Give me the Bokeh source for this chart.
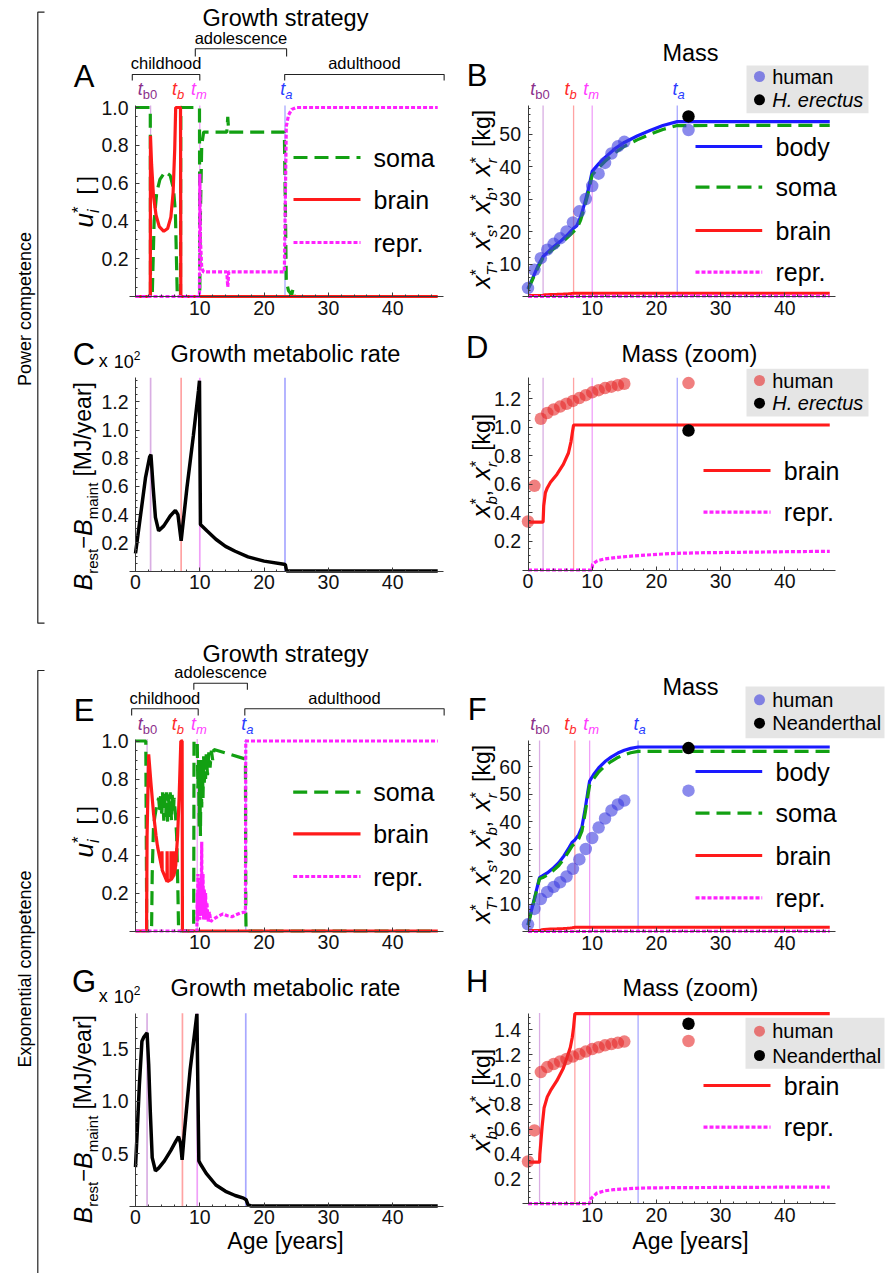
import math
from bokeh.plotting import figure
from bokeh.models import Range1d, LinearAxis, FixedTicker, NumeralTickFormatter
from bokeh.layouts import row, column
from bokeh.core.properties import value
from bokeh.embed import file_html
from bokeh.resources import INLINE

FONT = "Liberation Sans"
GREEN = "#12a012"
RED = "#ff1a1a"
MAGENTA = "#ff22ff"
BLUE = "#1a1aff"
HUMAN_BLUE = "#3c3ce0"
HUMAN_RED = "#e62a2a"
AXC = "#3a3a3a"

# ---------------- data ----------------
# event times: t_b0, t_b, t_m, t_a
pow_events = [2.35, 7.1, 10.0, 23.25]
exp_events = [1.8, 7.3, 9.6, 17.15]
# where the event labels sit along the age axis
pow_label_x = [1.85, 6.62, 9.85, 23.45]
exp_label_x = [1.85, 6.6, 9.85, 17.4]
phase_names = ["childhood", "adolescence", "adulthood"]
pow_phases = [(-0.5, 10.0), (9.3, 23.5), (23.2, 48.0)]
exp_phases = [(-0.6, 9.75), (9.07, 17.4), (17.0, 48.0)]

# A: power competence, growth strategy
A_soma_age = [0, 2.3, 2.33, 2.6, 2.9, 3.3, 3.8, 4.6, 5.4, 5.9, 6.2, 6.4, 6.5, 7.0, 7.05, 9.95, 10.0, 10.05,
              10.3, 10.6, 14.2, 14.35, 14.5, 23.15, 23.3, 23.45, 23.8, 24.3, 24.5, 24.7, 47.0]
A_soma_u = [1, 1, 0, 0, 0.4, 0.55, 0.62, 0.66, 0.64, 0.57, 0.45, 0.15, 0, 0, 1, 1, 0.02, 0.35,
            0.8, 0.87, 0.87, 0.95, 0.87, 0.87, 0.5, 0.08, 0.03, 0.01, 0.04, 0, 0]
A_brain_age = [0, 2.3, 2.33, 2.5, 2.8, 3.2, 3.7, 4.4, 5.0, 5.5, 5.85, 6.1, 6.25, 7.0, 7.05, 47.0]
A_brain_u = [0, 0, 0.85, 0.7, 0.53, 0.43, 0.37, 0.345, 0.36, 0.42, 0.55, 0.78, 1.0, 1.0, 0, 0]
A_repr_age = [0, 9.95, 10.0, 10.1, 10.3, 10.6, 14.2, 14.35, 14.5, 23.15, 23.3, 23.45, 23.8, 24.3, 25.0, 47.0]
A_repr_u = [0, 0, 0.65, 0.3, 0.15, 0.13, 0.13, 0.05, 0.13, 0.13, 0.5, 0.9, 0.96, 0.99, 1.0, 1.0]

# B: power competence, mass
B_age = [0, 0.5, 1.0, 1.5, 2.35, 3.0, 4.0, 5.0, 6.0, 7.1, 7.6, 8.2, 8.8, 9.4, 10.0, 11.0, 12.0, 13.5,
         15.0, 17.0, 19.0, 21.0, 23.25, 47.0]
B_body = [2.5, 4.6, 6.9, 9.2, 12.3, 13.5, 15.3, 16.9, 18.7, 21.0, 21.8, 24.5, 28.5, 33.0, 38.5, 40.8,
          42.8, 45.4, 47.4, 49.4, 51.1, 52.6, 53.8, 53.8]
B_soma = [2.2, 4.3, 6.5, 8.7, 11.9, 13.0, 14.7, 16.2, 17.9, 20.0, 20.8, 23.5, 27.5, 32.0, 37.4, 39.6,
          41.6, 44.2, 46.2, 48.2, 49.9, 51.4, 52.6, 52.65]
P_brain_age = [0, 2.35, 2.45, 2.7, 3.0, 3.5, 4.5, 5.5, 6.3, 6.7, 6.9, 7.1, 47.0]
P_brain_m = [0.335, 0.335, 0.45, 0.54, 0.575, 0.615, 0.67, 0.74, 0.82, 0.9, 0.96, 1.016, 1.016]
P_repr_age = [0, 10.0, 10.05, 10.8, 12.0, 14.0, 16.5, 18.5, 21.0, 23.3, 27.0, 33.0, 40.0, 47.0]
P_repr_m = [0, 0, 0.04, 0.065, 0.078, 0.089, 0.099, 0.105, 0.112, 0.117, 0.121, 0.124, 0.128, 0.131]

# C: power competence, growth metabolic rate (x 10^2 MJ/year)
C_age = [0, 0.8, 1.55, 2.2, 2.4, 2.75, 3.1, 3.6, 4.4, 5.4, 6.2, 6.6, 7.1, 8.0, 9.0, 9.8, 9.95, 10.1,
         11.1, 12.5, 14.0, 15.5, 17.5, 20.0, 23.1, 23.3, 23.5, 47.0]
C_rate = [0.125, 0.4, 0.66, 0.81, 0.825, 0.59, 0.38, 0.285, 0.32, 0.39, 0.43, 0.4, 0.215, 0.59, 0.96,
          1.28, 1.35, 0.33, 0.285, 0.225, 0.175, 0.14, 0.1, 0.07, 0.048, 0.045, 0.0, 0.0]

# E: exponential competence, growth strategy
E_soma_age = [0, 1.6, 1.75, 2.5, 2.6, 2.8, 3.0, 3.3, 3.6, 3.8, 3.9, 4.1, 4.2, 4.4, 4.5, 4.7, 4.8, 5.0,
              5.1, 5.3, 5.4, 5.6, 5.7, 5.9, 6.0, 6.2, 6.4, 6.6, 6.7, 9.05, 9.1, 9.6, 9.7, 9.8, 9.9,
              10.0, 10.1, 10.2, 10.3, 10.4, 10.5, 10.6, 10.7, 10.8, 10.9, 11.0, 11.2, 11.4, 11.6,
              11.8, 12.0, 12.2, 17.1, 17.15, 17.2, 47.0]
E_soma_u = [1, 1, 0, 0, 0.3, 0.55, 0.6, 0.66, 0.7, 0.62, 0.72, 0.6, 0.73, 0.58, 0.74, 0.6, 0.73, 0.57,
            0.72, 0.6, 0.73, 0.58, 0.72, 0.62, 0.7, 0.62, 0.5, 0.2, 0, 0, 1.0, 1.0, 0.75, 0.9, 0.55,
            0.85, 0.5, 0.9, 0.65, 0.88, 0.7, 0.92, 0.78, 0.9, 0.8, 0.93, 0.82, 0.94, 0.86,
            0.95, 0.9, 0.955, 0.905, 0.1, 0, 0]
E_brain_age = [0, 1.72, 1.8, 2.05, 2.4, 2.8, 3.2, 3.4, 3.42, 3.45, 4.1, 4.12, 4.15, 4.9, 4.92, 4.95,
               5.5, 5.52, 5.55, 5.9, 5.92, 5.95, 6.2, 6.22, 6.25, 6.35, 6.55, 6.8, 7.05, 7.25, 7.3, 47.0]
E_brain_u = [0, 0, 0.5, 0.93, 0.78, 0.62, 0.5, 0.45, 0.45, 0.44, 0.33, 0.42, 0.32, 0.26, 0.42, 0.26,
             0.27, 0.42, 0.27, 0.29, 0.42, 0.29, 0.33, 0.42, 0.34, 0.4, 0.5, 0.72, 1.0, 1.0, 0, 0]
E_repr_age = [0, 9.55, 9.6, 9.65, 9.7, 9.8, 9.9, 10.0, 10.1, 10.2, 10.3, 10.35, 10.5, 10.6, 10.7, 10.8,
              10.9, 11.0, 11.1, 11.3, 11.5, 11.7, 12.0, 12.5, 13.0, 13.6, 14.3, 15.0, 15.6, 16.3,
              17.1, 17.15, 47.0]
E_repr_u = [0, 0, 0.2, 0.05, 0.3, 0.1, 0.28, 0.06, 0.25, 0.08, 0.47, 0.1, 0.3, 0.06, 0.22, 0.07,
            0.2, 0.06, 0.15, 0.05, 0.1, 0.05, 0.06, 0.07, 0.08, 0.09, 0.08, 0.075, 0.085, 0.095,
            0.1, 1.0, 1.0]

# F: exponential competence, mass
F_age = [0, 0.5, 1.0, 1.5, 1.8, 2.3, 3.0, 3.8, 4.8, 5.6, 6.4, 6.9, 7.3, 7.9, 8.4, 8.9, 9.3, 9.6, 10.2,
         11.0, 12.0, 13.0, 14.0, 15.0, 16.0, 17.15, 47.0]
F_body = [2.5, 7.3, 12.0, 16.8, 19.6, 20.3, 21.3, 22.8, 25.0, 27.5, 30.5, 32.5, 33.3, 35.2, 38.0, 44.5,
          50.5, 54.7, 57.0, 59.5, 61.8, 63.5, 64.9, 65.9, 66.6, 67.1, 67.1]
F_soma = [2.2, 7.0, 11.6, 16.4, 19.2, 19.6, 20.5, 21.9, 24.0, 26.4, 29.3, 31.2, 31.9, 33.7, 36.5, 43.0,
          49.0, 53.2, 55.5, 58.0, 60.2, 61.9, 63.3, 64.3, 65.0, 65.5, 65.5]
X_brain_age = [0, 1.8, 1.85, 2.2, 2.5, 3.0, 3.5, 4.5, 5.5, 6.1, 6.6, 6.9, 7.1, 7.3, 47.0]
X_brain_m = [0.335, 0.335, 0.4, 0.62, 0.77, 0.86, 0.91, 0.99, 1.09, 1.18, 1.26, 1.34, 1.42, 1.53, 1.53]
X_repr_age = [0, 9.6, 9.65, 10.0, 10.75, 12.0, 13.3, 15.5, 17.5, 22.0, 30.0, 40.0, 47.0]
X_repr_m = [0, 0, 0.035, 0.05, 0.086, 0.104, 0.113, 0.12, 0.126, 0.129, 0.131, 0.133, 0.134]

# G: exponential competence, growth metabolic rate
G_age = [0, 0.3, 0.6, 1.0, 1.3, 1.8, 2.05, 2.3, 2.6, 3.1, 3.6, 4.5, 5.5, 6.3, 6.7, 7.0, 7.25, 7.6, 8.5,
         9.2, 9.55, 9.85, 10.1, 11.0, 12.5, 14.0, 15.5, 16.8, 17.2, 17.5, 18.0, 47.0]
G_rate = [0.37, 0.75, 1.15, 1.57, 1.61, 1.65, 1.35, 0.9, 0.46, 0.335, 0.36, 0.43, 0.53, 0.62, 0.66, 0.6,
          0.44, 0.7, 1.3, 1.65, 1.83, 0.43, 0.4, 0.31, 0.2, 0.14, 0.1, 0.075, 0.06, 0.01, 0.0, 0.0]

# observed data
human_age = [0, 1, 2, 3, 4, 5, 6, 7, 8, 9, 10, 11, 12, 13, 14, 15, 25]
human_body = [2.6, 8.2, 11.8, 14.4, 16.2, 17.9, 20.0, 22.8, 26.2, 30.0, 34.0, 37.8, 41.1, 44.0, 46.2, 47.6, 51.2]
human_brain = [0.34, 0.59, 1.06, 1.10, 1.125, 1.145, 1.165, 1.185, 1.205, 1.225, 1.245, 1.26, 1.275,
               1.285, 1.295, 1.305, 1.31]
fossil_age = [25]
erectus_body = [55.4]
erectus_brain = [0.977]
neander_body = [66.7]
neander_brain = [1.449]

t_subs = [("b0", "normal"), ("b", "italic"), ("m", "italic"), ("a", "italic")]
t_label_colors = ["#8b2f8b", "#ff2a2a", "#ff3cff", "#2a3cff"]
t_line_colors = ["#d9aee3", "#ffa3a3", "#f0a0f8", "#a8a8ff"]

# ---------------- helpers ----------------
W = {' ': .278, 'a': .556, 'b': .556, 'c': .5, 'd': .556, 'e': .556, 'f': .278, 'g': .556, 'h': .556,
     'i': .222, 'j': .222, 'k': .5, 'l': .222, 'm': .833, 'n': .556, 'o': .556, 'p': .556, 'q': .556,
     'r': .333, 's': .5, 't': .278, 'u': .556, 'v': .5, 'w': .722, 'x': .5, 'y': .5, 'z': .5,
     'A': .667, 'B': .667, 'C': .722, 'D': .722, 'E': .667, 'F': .611, 'G': .778, 'H': .722,
     'J': .5, 'M': .833, 'N': .722, 'T': .611, '[': .278, ']': .278, '(': .333, ')': .333, '/': .278,
     ',': .278, '.': .278, '*': .389, '−': .584, '-': .333}
MID = 0.35   # baseline -> em-box middle, in font sizes


def textw(s, size):
    return sum(W.get(ch, 0.556) for ch in s) * size


def minor(step, top, every):
    n = int(top / step + 1e-9)
    return [round(step * i, 4) for i in range(1, n + 1) if i % every]


XMINOR = [2 * i for i in range(1, 24) if i % 5]


class Panel:
    def __init__(self, L, R, T, B, X0=0.0, SX=1.0, Y0=0.0, SY=1.0):
        self.X0, self.SX, self.Y0, self.SY = X0, SX, Y0, SY
        self.fig = figure(width=R - L, height=B - T,
                          x_range=Range1d((L - X0) / SX, (R - X0) / SX),
                          y_range=Range1d((Y0 - B) / SY, (Y0 - T) / SY),
                          x_axis_type=None, y_axis_type=None,
                          toolbar_location=None, output_backend="svg", min_border=0)
        self.fig.outline_line_color = None

    def dx(self, px):
        return (px - self.X0) / self.SX

    def dy(self, py):
        return (self.Y0 - py) / self.SY

    def px(self, x):
        return self.X0 + self.SX * x

    def text(self, px, py, s, size, style="normal", color="black", align="left",
             baseline="alphabetic", angle=0.0):
        # positions are given for the alphabetic baseline; drawn with a middle baseline
        if baseline == "alphabetic":
            if angle == 0.0:
                py = py - MID * size
            else:
                px = px - MID * size
        self.fig.text(x=[self.dx(px)], y=[self.dy(py)], text=[s], text_font=value(FONT),
                      text_font_size=f"{size}px", text_font_style=style, text_color=color,
                      text_align=align, text_baseline="middle", angle=angle)

    def _walk(self, segs, draw=None):
        cursor, pending = 0.0, 0.0
        for seg in segs:
            t, size = seg[0], seg[1]
            if t == "":
                cursor += size
                continue
            style = seg[2] if len(seg) > 2 else "normal"
            rise = seg[3] if len(seg) > 3 else 0
            adv = seg[4] if len(seg) > 4 else True
            w = textw(t, size)
            if draw:
                draw(cursor, t, size, style, rise)
            if adv:
                cursor += max(w, pending)
                pending = 0.0
            else:
                pending = max(pending, w)
        return cursor + pending

    def rich(self, px, py, segs, color="black", angle=0.0, align="left"):
        total = self._walk(segs)
        start = -total / 2 if align == "center" else 0.0

        def draw(cursor, t, size, style, rise):
            c = start + cursor
            if angle == 0.0:
                x, y = px + c, py - rise
            else:
                x, y = px - rise, py - c
            self.text(x, y, t, size, style, color, "left", "alphabetic", angle)
        self._walk(segs, draw)

    def axes(self, xticks, xminor, yticks, yminor, ytop, yfmt, xlo=-0.9, xhi=47.9):
        xa = LinearAxis(fixed_location=0, bounds=(xlo, xhi),
                        ticker=FixedTicker(ticks=xticks, minor_ticks=xminor),
                        formatter=NumeralTickFormatter(format="0"))
        ya = LinearAxis(fixed_location=0, bounds=(0, ytop),
                        ticker=FixedTicker(ticks=yticks, minor_ticks=yminor),
                        formatter=NumeralTickFormatter(format=yfmt))
        for ax in (xa, ya):
            ax.axis_line_color = AXC
            ax.axis_line_width = 1
            ax.major_tick_line_color = AXC
            ax.minor_tick_line_color = AXC
            ax.major_tick_in = 4
            ax.major_tick_out = 0
            ax.minor_tick_in = 2
            ax.minor_tick_out = 0
            ax.major_label_text_font = FONT
            ax.major_label_text_font_size = "19.5px"
            ax.major_label_text_color = "#111111"
        xa.major_label_standoff = 4
        ya.major_label_standoff = 7
        self.fig.add_layout(xa, "below")
        self.fig.add_layout(ya, "left")

    def vlines(self, ts, top, width=1.3):
        self.fig.segment(x0=ts, y0=[0] * len(ts), x1=ts, y1=[top] * len(ts),
                         line_color=t_line_colors, line_width=width)

    def tlabels(self, xs, py):
        for t, (sub, st), c in zip(xs, t_subs, t_label_colors):
            self.rich(self.px(t), py, [("t", 18, "italic"), (sub, 13, st, -4)], color=c, align="center")

    def brackets(self, phases, ybar, ytick, ylab):
        for (a, b), name, yb, yt, yl in zip(phases, phase_names, ybar, ytick, ylab):
            self.fig.line([a, a, b, b], [self.dy(yt), self.dy(yb), self.dy(yb), self.dy(yt)],
                          line_color="#222222", line_width=1.1)
            self.text(self.px((a + b) / 2), yl, name, 16.5, align="center")

    def line_legend(self, x0, x1, xt, rows, items):
        for (label, color, dash), yr in zip(items, rows):
            self.fig.line([self.dx(x0), self.dx(x1)], [self.dy(yr)] * 2, line_color=color,
                          line_width=3.2, line_dash=dash)
            self.text(xt, yr + 9, label, 25)

    def dot_legend(self, box, rows, items):
        L, R, T, B = box
        self.fig.quad(left=[self.dx(L)], right=[self.dx(R)], top=[self.dy(T)], bottom=[self.dy(B)],
                      fill_color="#e5e5e5", line_color=None)
        for (label, style, color, alpha), yr in zip(items, rows):
            self.fig.scatter([self.dx(759)], [self.dy(yr)], size=11, fill_color=color,
                             fill_alpha=alpha, line_color=None)
            self.text(771.7, yr + 7, label, 20, style)


def x_label(subs):
    segs = []
    for k, s in enumerate(subs):
        segs += [("x", 26, "italic"), (s, 15, "italic", -6, False), ("*", 16, "normal", 8)]
        if k < len(subs) - 1:
            segs += [(",", 22), ("", 10)]
    segs += [("", 10), ("[kg]", 23)]
    return segs


BRATE = [("B", 25, "italic"), ("rest", 15, "normal", -6), ("−", 22), ("B", 25, "italic"),
         ("maint", 15, "normal", -6), ("", 6), ("[MJ/year]", 23)]
ULABEL = [("u", 26, "italic"), ("i", 16, "italic", -6, False), ("*", 17, "normal", 9), ("", 12),
          ("[  ]", 22)]
X10 = [("x", 18), ("", 6), ("10", 18), ("2", 12, "normal", 8)]
ROT = math.pi / 2

STRAT_LEG = [("soma", GREEN, "14 7"), ("brain", RED, "solid"), ("repr.", MAGENTA, "4 2")]
MASS_LEG = [("body", BLUE, "solid"), ("soma", GREEN, "14 7"), ("brain", RED, "solid"),
            ("repr.", MAGENTA, "4 2")]
ZOOM_LEG = [("brain", RED, "solid"), ("repr.", MAGENTA, "4 2")]


def strategy(P, soma, brain, repr_):
    P.fig.line(soma[0], soma[1], line_color=GREEN, line_width=3.2, line_dash="14 7")
    P.fig.line(brain[0], brain[1], line_color=RED, line_width=3.2)
    P.fig.line(repr_[0], repr_[1], line_color=MAGENTA, line_width=3.2, line_dash="4 2")


RIGHT = 886
BOTTOM = 1273

# ---------------- A ----------------
A = Panel(60, 445, 0, 325, 135, 6.43, 296, 189)
A.axes([10, 20, 30, 40], XMINOR, [0.2, 0.4, 0.6, 0.8, 1.0], minor(0.05, 1.01, 4), 1.01, "0.0")
A.vlines(pow_events, 1.01)
strategy(A, (A_soma_age, A_soma_u), (A_brain_age, A_brain_u), (A_repr_age, A_repr_u))
A.text(285, 26, "Growth strategy", 23.5, align="center")
A.text(83.5, 87, "A", 31, align="center")
A.brackets(pow_phases, [74, 48.3, 74], [80, 56, 80], [68.3, 43.3, 68.3])
A.tlabels(pow_label_x, 95)
A.line_legend(293, 360, 373, [157, 199, 242], STRAT_LEG)
A.rich(93, 227, ULABEL, angle=ROT)

# ---------------- B ----------------
B = Panel(445, RIGHT, 0, 325, 527.5, 6.42, 296, 3.25)
B.axes([10, 20, 30, 40], XMINOR, [10, 20, 30, 40, 50], minor(2, 58.8, 5), 58.8, "0")
B.vlines(pow_events, 58.8)
B.fig.line(B_age, B_body, line_color=BLUE, line_width=3.2)
B.fig.line(B_age, B_soma, line_color=GREEN, line_width=3.2, line_dash="14 7")
B.fig.line(P_brain_age, P_brain_m, line_color=RED, line_width=3)
B.fig.line(P_repr_age, P_repr_m, line_color=MAGENTA, line_width=3, line_dash="4 2")
B.fig.scatter(human_age, human_body, size=12.5, fill_color=HUMAN_BLUE, fill_alpha=0.6, line_color=None)
B.fig.scatter(fossil_age, erectus_body, size=12.5, fill_color="black", line_color=None)
B.text(690, 60.7, "Mass", 23.5, align="center")
B.text(476.7, 86, "B", 31, align="center")
B.tlabels(pow_label_x, 95)
B.dot_legend((746, 868, 65, 112.7), [76, 99.3],
             [("human", "normal", HUMAN_BLUE, 0.6), ("H. erectus", "italic", "black", 1.0)])
B.line_legend(695, 761.7, 775, [146, 186.7, 230, 271.7], MASS_LEG)
B.rich(490, 288, x_label(["T", "s", "b", "r"]), angle=ROT)

# ---------------- C ----------------
C = Panel(60, 445, 325, 620, 135, 6.43, 570.5, 141)
C.axes([0, 10, 20, 30, 40], XMINOR, [0.2, 0.4, 0.6, 0.8, 1.0, 1.2], minor(0.05, 1.37, 4), 1.37, "0.0")
C.vlines(pow_events, 1.37, width=1.7)
C.fig.line(C_age, C_rate, line_color="black", line_width=3.5)
C.text(285, 361.7, "Growth metabolic rate", 23.5, align="center")
C.text(83.5, 365, "C", 31, align="center")
C.rich(98.3, 367, X10)
C.rich(91, 590, BRATE, angle=ROT)

# ---------------- D ----------------
D = Panel(445, RIGHT, 325, 620, 527.5, 6.42, 569.5, 142.7)
D.axes([0, 10, 20, 30, 40], XMINOR, [0.2, 0.4, 0.6, 0.8, 1.0, 1.2], minor(0.05, 1.347, 4), 1.347, "0.0")
D.vlines(pow_events, 1.347)
D.fig.line(P_brain_age, P_brain_m, line_color=RED, line_width=3.2)
D.fig.line(P_repr_age, P_repr_m, line_color=MAGENTA, line_width=3.2, line_dash="4 2")
D.fig.scatter(human_age, human_brain, size=12.5, fill_color=HUMAN_RED, fill_alpha=0.6, line_color=None)
D.fig.scatter(fossil_age, erectus_brain, size=12.5, fill_color="black", line_color=None)
D.text(689, 361.7, "Mass (zoom)", 23.5, align="center")
D.text(476.7, 358, "D", 31, align="center")
D.dot_legend((746, 868, 368.3, 416), [380, 402.7],
             [("human", "normal", HUMAN_RED, 0.6), ("H. erectus", "italic", "black", 1.0)])
D.line_legend(703, 770, 783.3, [470, 511.7], ZOOM_LEG)
D.rich(490, 517, x_label(["b", "r"]), angle=ROT)

# ---------------- E ----------------
E = Panel(60, 445, 620, 962, 135, 6.43, 930.5, 190)
E.axes([10, 20, 30, 40], XMINOR, [0.2, 0.4, 0.6, 0.8, 1.0], minor(0.05, 1.01, 4), 1.01, "0.0")
E.vlines(exp_events, 1.01)
strategy(E, (E_soma_age, E_soma_u), (E_brain_age, E_brain_u), (E_repr_age, E_repr_u))
E.text(285, 661.7, "Growth strategy", 23.5, align="center")
E.text(83.5, 720.7, "E", 31, align="center")
E.brackets(exp_phases, [708.3, 682.7, 708.3], [715, 689.3, 715], [703, 677, 703])
E.tlabels(exp_label_x, 730)
E.line_legend(292.7, 360, 372.7, [791.7, 833.3, 876], STRAT_LEG)
E.rich(93, 857, ULABEL, angle=ROT)

# ---------------- F ----------------
F = Panel(445, RIGHT, 620, 962, 527.5, 6.42, 931, 2.75)
F.axes([10, 20, 30, 40], XMINOR, [10, 20, 30, 40, 50, 60], minor(2, 69.5, 5), 69.5, "0")
F.vlines(exp_events, 69.5)
F.fig.line(F_age, F_body, line_color=BLUE, line_width=3.2)
F.fig.line(F_age, F_soma, line_color=GREEN, line_width=3.2, line_dash="14 7")
F.fig.line(X_brain_age, X_brain_m, line_color=RED, line_width=3)
F.fig.line(X_repr_age, X_repr_m, line_color=MAGENTA, line_width=3, line_dash="4 2")
F.fig.scatter(human_age, human_body, size=12.5, fill_color=HUMAN_BLUE, fill_alpha=0.6, line_color=None)
F.fig.scatter(fossil_age, neander_body, size=12.5, fill_color="black", line_color=None)
F.text(690, 695, "Mass", 23.5, align="center")
F.text(476.7, 720, "F", 31, align="center")
F.tlabels(exp_label_x, 730)
F.dot_legend((745, 884, 686, 737.7), [699.3, 722.7],
             [("human", "normal", HUMAN_BLUE, 0.6), ("Neanderthal", "normal", "black", 1.0)])
F.line_legend(695, 761.7, 775, [771, 812.7, 855, 897.3], MASS_LEG)
F.rich(490, 923, x_label(["T", "s", "b", "r"]), angle=ROT)

# ---------------- G ----------------
G = Panel(60, 445, 962, BOTTOM, 135, 6.43, 1205.5, 105)
G.axes([0, 10, 20, 30, 40], XMINOR, [0.5, 1.0, 1.5], minor(0.1, 1.836, 5), 1.836, "0.0")
G.vlines(exp_events, 1.836, width=1.7)
G.fig.line(G_age, G_rate, line_color="black", line_width=3.5)
G.text(285, 996, "Growth metabolic rate", 23.5, align="center")
G.text(83.5, 991.7, "G", 31, align="center")
G.rich(98.3, 1002, X10)
G.rich(91, 1223, BRATE, angle=ROT)
G.text(285, 1249, "Age [years]", 23, align="center")

# ---------------- H ----------------
H = Panel(445, RIGHT, 962, BOTTOM, 527.5, 6.42, 1203.2, 124.2)
H.axes([10, 20, 30, 40], XMINOR, [0.2, 0.4, 0.6, 0.8, 1.0, 1.2, 1.4], minor(0.05, 1.535, 4), 1.535, "0.0")
H.vlines(exp_events, 1.535)
H.fig.line(X_brain_age, X_brain_m, line_color=RED, line_width=3.2)
H.fig.line(X_repr_age, X_repr_m, line_color=MAGENTA, line_width=3.2, line_dash="4 2")
H.fig.scatter(human_age, human_brain, size=12.5, fill_color=HUMAN_RED, fill_alpha=0.6, line_color=None)
H.fig.scatter(fossil_age, neander_brain, size=12.5, fill_color="black", line_color=None)
H.text(690, 996, "Mass (zoom)", 23.5, align="center")
H.text(476.7, 991.7, "H", 31, align="center")
H.dot_legend((745, 884, 1017.3, 1068.3), [1030.7, 1055],
             [("human", "normal", HUMAN_RED, 0.6), ("Neanderthal", "normal", "black", 1.0)])
H.line_legend(703, 770, 783.3, [1085, 1126.7], ZOOM_LEG)
H.rich(490, 1152, x_label(["b", "r"]), angle=ROT)
H.text(690, 1249, "Age [years]", 23, align="center")

# ---------------- left strip ----------------
S = Panel(0, 60, 0, BOTTOM, 0, 1, 1279, 1)
S.fig.line([44, 37.3, 37.3, 44], [S.dy(11.7), S.dy(11.7), S.dy(622.7), S.dy(622.7)],
           line_color="#222222", line_width=1.2)
S.fig.line([44, 37.3, 37.3], [S.dy(670), S.dy(670), S.dy(1279)], line_color="#222222", line_width=1.2)
S.text(24, 308.5, "Power competence", 18, align="center", baseline="middle", angle=ROT)
S.text(24, 968.5, "Exponential competence", 18, align="center", baseline="middle", angle=ROT)

layout = row(S.fig, column(row(A.fig, B.fig), row(C.fig, D.fig), row(E.fig, F.fig), row(G.fig, H.fig)))
open("out.html", "w").write(file_html(layout, INLINE))
